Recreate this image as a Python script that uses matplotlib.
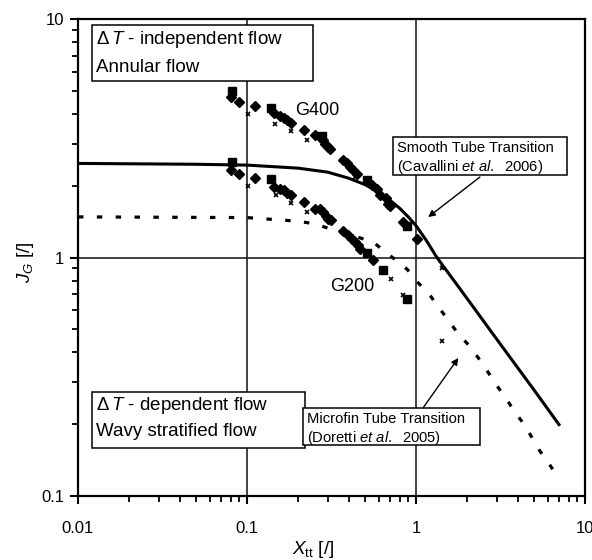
import matplotlib
matplotlib.use("Agg")
import matplotlib.pyplot as plt
from matplotlib.patches import Rectangle
from matplotlib.ticker import LogLocator, NullFormatter, FixedLocator, FixedFormatter

plt.rcParams['font.family'] = ['Liberation Sans', 'DejaVu Sans']
plt.rcParams['mathtext.fontset'] = 'custom'
plt.rcParams['mathtext.rm'] = 'Liberation Sans'
plt.rcParams['mathtext.it'] = 'Liberation Sans:italic'
plt.rcParams['mathtext.bf'] = 'Liberation Sans:bold'

# ---- data ----
smooth_x = [0.01, 0.05, 0.1, 0.2, 0.3, 0.4, 0.5, 0.6, 0.7, 0.8, 0.9, 1.0, 1.15, 1.33, 2.0, 3.0, 5.0, 7.1]
smooth_j = [2.48, 2.46, 2.44, 2.37, 2.28, 2.15, 2.02, 1.88, 1.74, 1.61, 1.48, 1.36, 1.18, 1.0, 0.675, 0.455, 0.278, 0.197]

microfin_x = [0.01, 0.1, 0.15, 0.2, 0.25, 0.3, 0.4, 0.56, 0.66, 0.77, 0.89, 1.0, 1.2, 1.34, 1.55, 1.78,
              2.04, 2.34, 2.68, 3.03, 3.41, 3.85, 4.36, 5.42, 6.07, 6.95]
microfin_j = [1.48, 1.47, 1.44, 1.42, 1.385, 1.33, 1.25, 1.16, 1.05, 0.97, 0.89, 0.80, 0.70, 0.628, 0.547, 0.478,
              0.431, 0.379, 0.329, 0.288, 0.257, 0.224, 0.200, 0.154, 0.138, 0.119]

g400_diamond_x = [0.080, 0.090, 0.111, 0.145, 0.157, 0.166, 0.173, 0.181, 0.218, 0.253, 0.270, 0.282, 0.289,
                  0.302, 0.310, 0.371, 0.389, 0.407, 0.426, 0.446, 0.547, 0.586, 0.612, 0.665, 0.686, 0.702,
                  0.841, 1.01]
g400_diamond_j = [4.72, 4.49, 4.32, 4.02, 3.91, 3.83, 3.76, 3.68, 3.42, 3.26, 3.21, 3.10, 3.00,
                  2.91, 2.84, 2.56, 2.48, 2.40, 2.32, 2.25, 2.01, 1.94, 1.82, 1.78, 1.68, 1.65,
                  1.41, 1.20]
g400_square_x = [0.081, 0.139, 0.277, 0.511, 0.881]
g400_square_j = [5.00, 4.24, 3.22, 2.11, 1.36]
g400_cross_x = [0.102, 0.147, 0.182, 0.228, 0.436, 1.42]
g400_cross_j = [3.98, 3.62, 3.38, 3.10, 2.18, 0.90]

g200_diamond_x = [0.080, 0.090, 0.111, 0.145, 0.157, 0.166, 0.173, 0.181, 0.218, 0.253, 0.270, 0.283,
                  0.294, 0.303, 0.313, 0.371, 0.398, 0.417, 0.436, 0.456, 0.466, 0.554]
g200_diamond_j = [2.32, 2.25, 2.16, 1.975, 1.944, 1.912, 1.87, 1.834, 1.708, 1.602, 1.602, 1.55,
                  1.50, 1.454, 1.43, 1.29, 1.237, 1.198, 1.16, 1.123, 1.088, 0.976]
g200_square_x = [0.082, 0.139, 0.511, 0.634, 0.889]
g200_square_j = [2.51, 2.13, 1.043, 0.888, 0.669]
g200_cross_x = [0.102, 0.148, 0.183, 0.228, 0.707, 0.832, 1.42]
g200_cross_j = [1.99, 1.82, 1.69, 1.55, 0.816, 0.699, 0.448]

x_ticks = [0.01, 0.1, 1, 10]
x_tick_labels = ["0.01", "0.1", "1", "10"]
y_ticks = [0.1, 1, 10]
y_tick_labels = ["0.1", "1", "10"]

# ---- figure ----
W, H = 592, 560
fig = plt.figure(figsize=(W / 100, H / 100), dpi=100)
L, R, T, B = 78, 585, 19, 496
ax = fig.add_axes([L / W, 1 - B / H, (R - L) / W, (B - T) / H])
ax.set_xscale('log')
ax.set_yscale('log')
ax.set_xlim(0.01, 10)
ax.set_ylim(0.1, 10)

ax.grid(True, which='major', color='#222222', lw=1.2)
ax.set_axisbelow(True)

ax.plot(smooth_x, smooth_j, color='black', lw=2.2, solid_capstyle='butt', zorder=3)
ax.plot(microfin_x, microfin_j, color='black', lw=2.3, linestyle=(0, (1.7, 4.2)), zorder=3)

for xs, js in [(g400_diamond_x, g400_diamond_j), (g200_diamond_x, g200_diamond_j)]:
    ax.plot(xs, js, linestyle='none', marker='D', ms=4.8, color='black', zorder=4)
for xs, js in [(g400_square_x, g400_square_j), (g200_square_x, g200_square_j)]:
    ax.plot(xs, js, linestyle='none', marker='s', ms=5.6, color='black', zorder=4)
for xs, js in [(g400_cross_x, g400_cross_j), (g200_cross_x, g200_cross_j)]:
    ax.plot(xs, js, linestyle='none', marker='x', ms=3.2, mew=1.2, color='black', zorder=4)

ax.text(0.192, 4.15, "G400", fontsize=13, va='center', ha='left', zorder=5)
ax.text(0.31, 0.755, "G200", fontsize=13, va='center', ha='left', zorder=5)

# ticks
ax.xaxis.set_major_locator(FixedLocator(x_ticks))
ax.xaxis.set_major_formatter(FixedFormatter(x_tick_labels))
ax.yaxis.set_major_locator(FixedLocator(y_ticks))
ax.yaxis.set_major_formatter(FixedFormatter(y_tick_labels))
ax.xaxis.set_minor_locator(LogLocator(base=10, subs=range(2, 10)))
ax.yaxis.set_minor_locator(LogLocator(base=10, subs=range(2, 10)))
ax.xaxis.set_minor_formatter(NullFormatter())
ax.yaxis.set_minor_formatter(NullFormatter())
ax.tick_params(which='major', direction='out', length=6, width=1.5, labelsize=12, pad=4)
ax.tick_params(which='minor', direction='out', length=4, width=1.3)
ax.tick_params(axis='x', which='major', pad=12)
for s in ax.spines.values():
    s.set_linewidth(1.6)


def ax_xy(px, py):
    return (px - L) / (R - L), (B - py) / (B - T)


def box(px0, py0, px1, py1):
    x0, y1 = ax_xy(px0, py0)
    x1, y0 = ax_xy(px1, py1)
    ax.add_patch(Rectangle((x0, y0), x1 - x0, y1 - y0, transform=ax.transAxes,
                           facecolor='white', edgecolor='black', lw=1.1, zorder=6, clip_on=False))


def txt(px, py, s, size):
    x, y = ax_xy(px, py)
    ax.text(x, y, s, transform=ax.transAxes, fontsize=size, ha='left', va='center', zorder=7)


# annotation boxes
box(92, 25, 313, 81)
txt(96, 40, r"$\Delta\,T$ - independent flow", 13.5)
txt(96, 67, "Annular flow", 13.5)

box(92, 392, 305, 448)
txt(96, 405, r"$\Delta\,T$ - dependent flow", 13.5)
txt(96, 432, "Wavy stratified flow", 13.5)

box(393, 137, 567, 175)
txt(397, 148, "Smooth Tube Transition", 10.6)
txt(397, 166.5, r"(Cavallini $et\ al.$  2006)", 10.6)

box(303, 408, 480, 445)
txt(307, 419, "Microfin Tube Transition", 10.6)
txt(307, 438, r"(Doretti $et\ al.$  2005)", 10.6)

# arrows
ax.annotate('', xy=(1.18, 1.477), xytext=(2.39, 2.175),
            arrowprops=dict(arrowstyle='-|>', color='black', lw=1.0, mutation_scale=10,
                            shrinkA=0, shrinkB=0), zorder=6)
ax.annotate('', xy=(1.78, 0.379), xytext=(1.105, 0.235),
            arrowprops=dict(arrowstyle='-|>', color='black', lw=1.0, mutation_scale=10,
                            shrinkA=0, shrinkB=0), zorder=6)

# axis labels
fig.text(313 / W, 1 - 549 / H, r"$X_{\mathrm{tt}}$ [/]", fontsize=13.5, ha='center', va='center')
fig.text(26 / W, 1 - 262 / H, r"$J_G$ [/]", fontsize=13.5, ha='center', va='center', rotation=90)

fig.savefig("out.png", dpi=100)
